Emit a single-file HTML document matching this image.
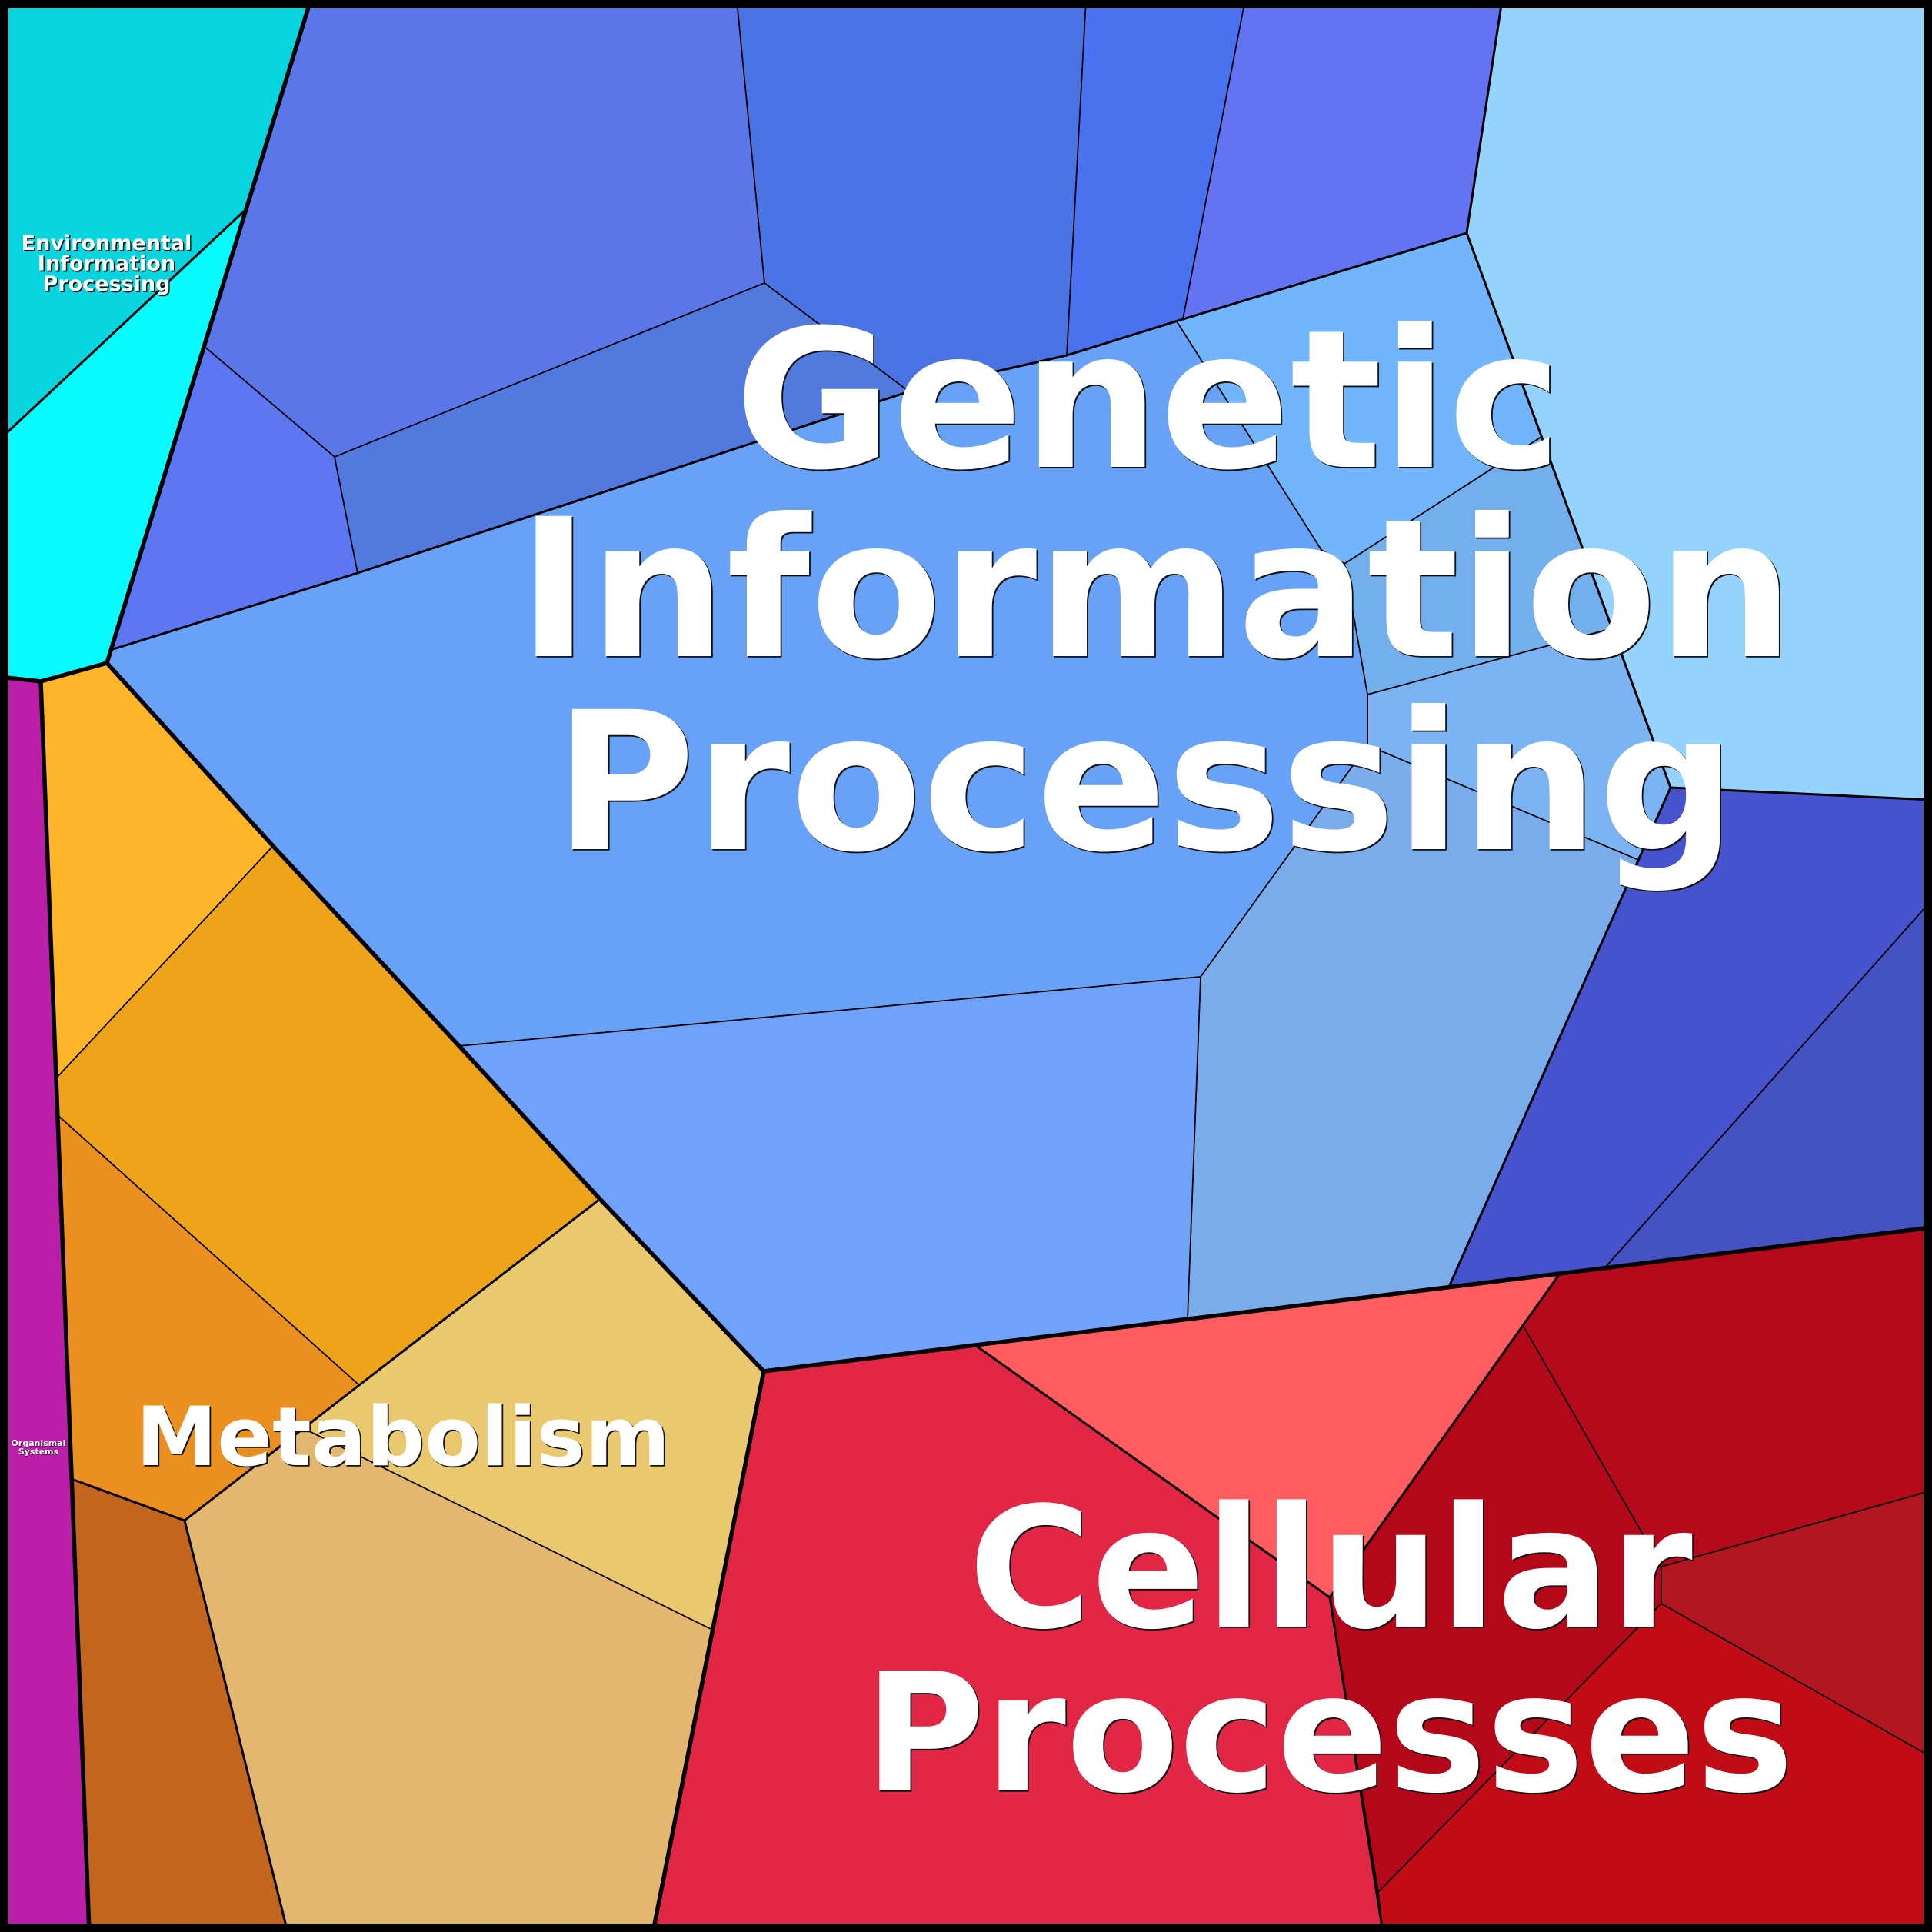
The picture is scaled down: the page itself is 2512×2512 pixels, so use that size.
<!DOCTYPE html>
<html><head><meta charset="utf-8"><style>
html,body{margin:0;padding:0;background:#fff;}
svg{display:block;}
text{font-family:"DejaVu Sans","Liberation Sans",sans-serif;font-weight:bold;}
</style></head><body>
<svg width="2512" height="2512" viewBox="0 0 2512 2512" xmlns="http://www.w3.org/2000/svg">
<g stroke="#000" stroke-width="1.7" stroke-linejoin="round">
<!-- Environmental -->
<polygon fill="#06D5DF" points="0,0 404,0 320,272 0,571"/>
<polygon fill="#07FAFE" points="0,571 320,272 139,862 53,886 0,880"/>
<!-- Genetic -->
<polygon fill="#5B76E6" points="404,0 958,0 994,368 435,594 265,450 320,272"/>
<polygon fill="#5D76F1" points="265,450 435,594 465,745 144,845"/>
<polygon fill="#5279DE" points="435,594 994,368 1182,509 465,745"/>
<polygon fill="#4A74E3" points="958,0 1412,0 1387,462 1182,509 994,368"/>
<polygon fill="#4A72F0" points="1412,0 1619,0 1538,415 1387,462"/>
<polygon fill="#6473F2" points="1619,0 1953,0 1907,303 1538,415"/>
<polygon fill="#95D3FD" points="1953,0 2512,0 2512,1040 2172,1024 1907,303"/>
<polygon fill="#71B5FD" points="1530,418 1907,303 2004,568 1748,733 1718,715"/>
<polygon fill="#72AFEC" points="1748,733 2004,568 2096,817 1778,903"/>
<polygon fill="#7BB3F3" points="1778,903 2096,817 2172,1024 2130,1118 1778,969"/>
<polygon fill="#7AACEC" points="1778,969 2130,1118 1884,1673 1544,1715 1561,1270"/>
<polygon fill="#68A2F7" points="144,845 465,745 1182,509 1387,462 1530,418 1718,715 1748,733 1778,903 1778,969 1561,1270 597,1360 355,1100 139,862"/>
<polygon fill="#70A1FB" points="597,1360 1561,1270 1544,1715 993,1783 780,1559"/>
<polygon fill="#4653CD" points="2172,1024 2512,1040 2512,1170 2087,1648 1884,1673"/>
<polygon fill="#4553C2" points="2512,1170 2512,1596 2087,1648"/>
<!-- Cellular -->
<polygon fill="#FF5D5F" points="1268,1749 2028,1656 1729,2077"/>
<polygon fill="#E22746" points="993,1783 1268,1749 1729,2077 1798,2512 849,2512"/>
<polygon fill="#B40A1B" points="2028,1656 2512,1596 2512,1938 2160,2037 1980,1723"/>
<polygon fill="#B5071A" points="1980,1723 2160,2037 2160,2085 1792,2460 1729,2077"/>
<polygon fill="#B21620" points="2160,2037 2512,1938 2512,2285 2160,2085"/>
<polygon fill="#C10B15" points="2160,2085 2512,2285 2512,2512 1798,2512 1792,2460"/>
<!-- Organismal -->
<polygon fill="#BB1FA9" points="0,880 53,886 116,2512 0,2512"/>
<!-- Metabolism -->
<polygon fill="#FEB527" points="53,886 139,862 355,1100 73,1402"/>
<polygon fill="#EEA41A" points="73,1402 355,1100 780,1559 467,1801 75,1450"/>
<polygon fill="#EB901F" points="75,1450 467,1801 240,1977 93,1923"/>
<polygon fill="#C1661C" points="93,1923 240,1977 374,2512 116,2512"/>
<polygon fill="#E9C870" points="467,1801 780,1559 993,1783 926,2119 394,1857"/>
<polygon fill="#E4B771" points="394,1857 926,2119 849,2512 374,2512 240,1977"/>
</g>
<!-- medium lines -->
<g fill="none" stroke="#000" stroke-width="3" stroke-linejoin="round" stroke-linecap="round">
<polyline points="320,272 0,571"/>
<polyline points="144,845 465,745 1182,509 1387,462 1538,415 1907,303 1953,0"/>
<polyline points="1907,303 2172,1024 2512,1040"/>
<polyline points="2172,1024 1884,1673"/>
<polyline points="1268,1749 1729,2077 2028,1656"/>
<polyline points="1729,2077 1798,2512"/>
<polyline points="780,1559 467,1801 240,1977 93,1923"/>
<polyline points="240,1977 374,2512"/>
</g>
<!-- thick lines -->
<g fill="none" stroke="#000" stroke-width="5.5" stroke-linejoin="round" stroke-linecap="round">
<polyline points="404,0 320,272 139,862"/>
<polyline points="0,880 53,886 139,862"/>
<polyline points="53,886 116,2512"/>
<polyline points="139,862 355,1100 597,1360 780,1559 993,1783"/>
<polyline points="993,1783 849,2512"/>
<polyline points="993,1783 1268,1749 2028,1656 2512,1596"/>
</g>
<!-- frame -->
<rect x="0" y="0" width="2512" height="2512" fill="none" stroke="#000" stroke-width="22"/>

<!-- labels: shadow -->
<g fill="#111" stroke="#111" stroke-width="0.6" text-anchor="middle">
<g transform="translate(1.5,1.5)">
<text x="1493" y="607" font-size="250">Genetic</text>
<text x="1503" y="853" font-size="250">Information</text>
<text x="1489" y="1104" font-size="250">Processing</text>
<text x="1730" y="2115" font-size="218">Cellular</text>
<text x="1728" y="2328" font-size="214">Processes</text>
<text x="524" y="1905" font-size="106">Metabolism</text>
</g>
<g transform="translate(1.3,1.3)" stroke-width="0.4">
<text x="138.5" y="325" font-size="27">Environmental</text>
<text x="138.5" y="351.5" font-size="27">Information</text>
<text x="138.5" y="378" font-size="27">Processing</text>
</g>
<g transform="translate(0.6,0.6)" stroke-width="0.2">
<text x="50" y="1880" font-size="11">Organismal</text>
<text x="50" y="1891" font-size="11">Systems</text>
</g>
</g>
<!-- labels: white -->
<g fill="#fff" text-anchor="middle">
<text x="1493" y="607" font-size="250">Genetic</text>
<text x="1503" y="853" font-size="250">Information</text>
<text x="1489" y="1104" font-size="250">Processing</text>
<text x="1730" y="2115" font-size="218">Cellular</text>
<text x="1728" y="2328" font-size="214">Processes</text>
<text x="524" y="1905" font-size="106">Metabolism</text>
<text x="138.5" y="325" font-size="27">Environmental</text>
<text x="138.5" y="351.5" font-size="27">Information</text>
<text x="138.5" y="378" font-size="27">Processing</text>
<text x="50" y="1880" font-size="11">Organismal</text>
<text x="50" y="1891" font-size="11">Systems</text>
</g>
</svg>
</body></html>
